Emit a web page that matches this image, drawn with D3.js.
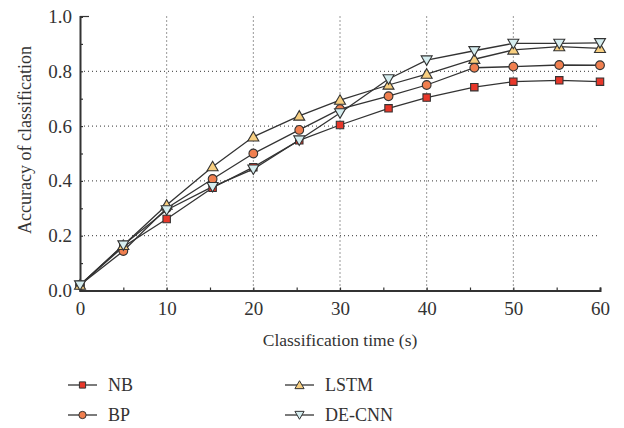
<!DOCTYPE html>
<html>
<head>
<meta charset="utf-8">
<script src="https://cdn.jsdelivr.net/npm/d3@7"></script>
<style>
  body { margin: 0; background: #fff; }
</style>
</head>
<body>
<div id="chart"></div>
<script>
// classification time (s)
var times = [0, 5, 10, 15.3, 20, 25.3, 30, 35.6, 40, 45.5, 50, 55.3, 60];

var nb     = [0.02, 0.16, 0.261, 0.375, 0.45, 0.548, 0.604, 0.665, 0.704, 0.742, 0.762, 0.767, 0.762];
var bp     = [0.02, 0.144, 0.30, 0.407, 0.50, 0.586, 0.662, 0.709, 0.75, 0.813, 0.817, 0.823, 0.822];
var lstm   = [0.02, 0.165, 0.312, 0.452, 0.561, 0.637, 0.695, 0.75, 0.79, 0.844, 0.878, 0.89, 0.884];
var decnn  = [0.02, 0.166, 0.294, 0.379, 0.443, 0.549, 0.648, 0.772, 0.841, 0.875, 0.902, 0.902, 0.904];

var seriesNames = ["NB", "BP", "LSTM", "DE-CNN"];
var xTicks = [0, 10, 20, 30, 40, 50, 60];
var yTicks = [0.0, 0.2, 0.4, 0.6, 0.8, 1.0];

var FONT = "'Liberation Serif', 'Times New Roman', serif";

var W = 624, H = 428;
var margin = {top: 16.5, left: 80, right: 24, bottom: 137.5};
var width = W - margin.left - margin.right,
    height = H - margin.top - margin.bottom;

var svg = d3.select("#chart").append("svg")
    .attr("width", W)
    .attr("height", H)
    .style("font-family", FONT);

var g = svg.append("g")
    .attr("transform", "translate(" + margin.left + "," + margin.top + ")");

var x = d3.scaleLinear().domain([0, 60]).range([0, width]);
var y = d3.scaleLinear().domain([0, 1]).range([height, 0]);

// dotted grid
g.selectAll("line.hgrid")
  .data([0.2, 0.4, 0.6, 0.8])
  .enter().append("line")
    .attr("class", "hgrid")
    .attr("x1", 0).attr("x2", width - 2)
    .attr("y1", function(d) { return y(d); })
    .attr("y2", function(d) { return y(d); })
    .attr("stroke", "#333").attr("stroke-width", 1)
    .attr("stroke-dasharray", "1,3");

g.selectAll("line.vgrid")
  .data([10, 20, 30, 40, 50])
  .enter().append("line")
    .attr("class", "vgrid")
    .attr("x1", function(d) { return x(d); })
    .attr("x2", function(d) { return x(d); })
    .attr("y1", 0).attr("y2", height)
    .attr("stroke", "#333").attr("stroke-width", 1)
    .attr("stroke-dasharray", "1,3");

// axes, ticks pointing inward
var xAxis = g.append("g")
    .attr("transform", "translate(0," + height + ")")
    .call(d3.axisBottom(x).tickValues(d3.range(0, 61, 5)).tickSize(-3).tickFormat(""));
xAxis.select(".domain").attr("stroke", "#333").attr("stroke-width", 2);
xAxis.selectAll(".tick line").attr("stroke", "#333").attr("stroke-width", 1.2);

var xLabels = g.append("g")
    .attr("transform", "translate(0," + height + ")")
    .call(d3.axisBottom(x).tickValues(xTicks).tickSize(0).tickPadding(11));
xLabels.attr("font-family", null).attr("font-size", null);
xLabels.select(".domain").remove();
xLabels.selectAll("text")
  .style("font-size", "19px").style("font-family", FONT).attr("fill", "#333");

var yAxis = g.append("g")
    .call(d3.axisLeft(y).tickValues(d3.range(0, 1.01, 0.1)).tickSize(-3).tickFormat(""));
yAxis.select(".domain").attr("stroke", "#333").attr("stroke-width", 2);
yAxis.selectAll(".tick line").attr("stroke", "#333").attr("stroke-width", 1.2);

var yLabels = g.append("g")
    .call(d3.axisLeft(y).tickValues(yTicks).tickSize(0).tickPadding(8).tickFormat(d3.format(".1f")));
yLabels.attr("font-family", null).attr("font-size", null);
yLabels.select(".domain").remove();
yLabels.selectAll("text")
  .style("font-size", "19px").style("font-family", FONT).attr("fill", "#333");

// top tick at 1.0
g.append("line")
  .attr("x1", 0).attr("x2", 9).attr("y1", y(1)).attr("y2", y(1))
  .attr("stroke", "#333").attr("stroke-width", 1.2);

// axis titles
svg.append("text")
  .attr("x", margin.left + width / 2)
  .attr("y", 346)
  .attr("text-anchor", "middle")
  .attr("fill", "#333")
  .style("font-size", "17.5px")
  .style("font-family", FONT)
  .text("Classification time (s)");

svg.append("text")
  .attr("transform", "translate(25,140) rotate(-90)")
  .attr("text-anchor", "middle")
  .attr("dy", "0.35em")
  .attr("fill", "#333")
  .style("font-size", "18px")
  .style("font-family", FONT)
  .text("Accuracy of classification");

// series
var allData = [nb, bp, lstm, decnn];
var fills = ["#e8372a", "#f07f4f", "#f8cf80", "#d6eef0"];
var shapes = [d3.symbolSquare, d3.symbolCircle, d3.symbolTriangle, d3.symbolTriangle];
var sizes = [55, 60, 52, 52];
var rotations = [0, 0, 0, 180];

var line = d3.line()
    .x(function(d) { return x(d[0]); })
    .y(function(d) { return y(d[1]); });

function pts(vals) {
  return vals.map(function(v, i) { return [times[i], v]; });
}

allData.forEach(function(vals) {
  g.append("path")
    .datum(pts(vals))
    .attr("fill", "none")
    .attr("stroke", "#333")
    .attr("stroke-width", 1.3)
    .attr("d", line);
});

allData.forEach(function(vals, k) {
  g.selectAll("path.m" + k)
    .data(pts(vals))
    .enter().append("path")
      .attr("class", "m" + k)
      .attr("d", d3.symbol().type(shapes[k]).size(sizes[k]))
      .attr("transform", function(d) {
        var dy = shapes[k] === d3.symbolTriangle ? (rotations[k] ? -1 : 1) : 0;
        return "translate(" + x(d[0]) + "," + (y(d[1]) + dy) + ") rotate(" + rotations[k] + ")";
      })
      .attr("fill", fills[k])
      .attr("stroke", "#333")
      .attr("stroke-width", 1.1);
});

// legend
var legendPos = [[68, 385], [68, 415], [285, 385], [285, 415]];
seriesNames.forEach(function(name, k) {
  var lg = svg.append("g")
    .attr("transform", "translate(" + legendPos[k][0] + "," + legendPos[k][1] + ")");
  lg.append("line")
    .attr("x1", 0).attr("x2", 29).attr("y1", 0).attr("y2", 0)
    .attr("stroke", "#333").attr("stroke-width", 1.3);
  lg.append("path")
    .attr("d", d3.symbol().type(shapes[k]).size(sizes[k] * 0.7))
    .attr("transform", "translate(14.5," + (shapes[k] === d3.symbolTriangle ? (rotations[k] ? -1 : 1) : 0) + ") rotate(" + rotations[k] + ")")
    .attr("fill", fills[k])
    .attr("stroke", "#333")
    .attr("stroke-width", 1);
  lg.append("text")
    .attr("x", 40)
    .attr("y", 6)
    .attr("fill", "#333")
    .style("font-size", "18px")
    .style("font-family", FONT)
    .text(name);
});
</script>
</body>
</html>
